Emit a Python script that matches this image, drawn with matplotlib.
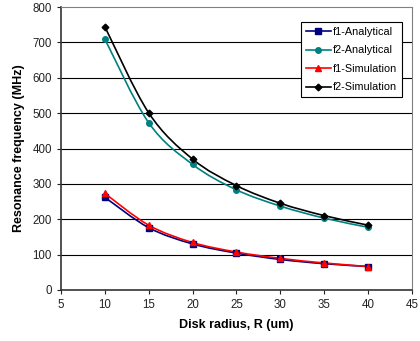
import numpy as np
import matplotlib
matplotlib.use("Agg")
import matplotlib.pyplot as plt
from matplotlib.path import Path
from matplotlib.patches import PathPatch
from matplotlib.lines import Line2D

plt.rcParams['font.family'] = ['Liberation Sans', 'DejaVu Sans']

radius = [10, 15, 20, 25, 30, 35, 40]
f1_analytical = [262, 176, 130, 104, 86, 74, 66]
f2_analytical = [710, 473, 355, 283, 237, 203, 177]
f1_simulation = [273, 183, 134, 107, 89, 76, 66]
f2_simulation = [745, 501, 370, 295, 245, 210, 183]

series = [
    ("f1-Analytical", f1_analytical, "#000080", "s", 3.8),
    ("f2-Analytical", f2_analytical, "#008080", "o", 4.0),
    ("f1-Simulation", f1_simulation, "#FF0000", "^", 4.4),
    ("f2-Simulation", f2_simulation, "#000000", "D", 3.4),
]


def smooth_path(x, y, t=1/6):
    # Excel-style smoothed line as cubic bezier segments
    x = np.asarray(x, float)
    y = np.asarray(y, float)
    n = len(x)
    verts = [(x[0], y[0])]
    codes = [Path.MOVETO]
    for i in range(n - 1):
        p0 = (x[i - 1], y[i - 1]) if i > 0 else (x[i], y[i])
        p1 = (x[i], y[i])
        p2 = (x[i + 1], y[i + 1])
        p3 = (x[i + 2], y[i + 2]) if i + 2 < n else p2
        c1 = (p1[0] + (p2[0] - p0[0]) * t, p1[1] + (p2[1] - p0[1]) * t)
        c2 = (p2[0] - (p3[0] - p1[0]) * t, p2[1] - (p3[1] - p1[1]) * t)
        verts += [c1, c2, p2]
        codes += [Path.CURVE4] * 3
    return Path(verts, codes)


fig = plt.figure(figsize=(4.2, 3.41), dpi=100)
ax = fig.add_axes([0.145, 0.15, 0.836, 0.829])

for val in range(100, 800, 100):
    ax.axhline(val, color="black", lw=0.8, zorder=1)

handles = []
for label, vals, color, marker, ms in series:
    patch = PathPatch(smooth_path(radius, vals), facecolor="none",
                      edgecolor=color, lw=1.2, zorder=3)
    ax.add_patch(patch)
    ax.plot(radius, vals, linestyle="none", marker=marker, color=color,
            markersize=ms, zorder=4)
    handles.append(Line2D([], [], color=color, lw=1.2, marker=marker,
                          markersize=ms, label=label))

ax.set_xlim(5, 45)
ax.set_ylim(0, 800)
ax.set_xticks(range(5, 50, 5))
ax.set_yticks(range(0, 900, 100))
ax.tick_params(labelsize=8.3, colors="#222222", length=3, width=0.8)

for side in ["left", "bottom"]:
    ax.spines[side].set_color("#333333")
    ax.spines[side].set_linewidth(1.2)
for side in ["top", "right"]:
    ax.spines[side].set_color("#808080")
    ax.spines[side].set_linewidth(0.8)

ax.set_xlabel("Disk radius, R (um)", fontsize=9, fontweight="bold", labelpad=6)
ax.set_ylabel("Resonance frequency (MHz)", fontsize=9, fontweight="bold", labelpad=5)

leg = ax.legend(handles=handles, loc="upper left", bbox_to_anchor=(0.683, 0.947),
                fontsize=7.8, frameon=True, fancybox=False, edgecolor="black",
                framealpha=1, handlelength=2.3, handletextpad=0.25,
                borderpad=0.45, labelspacing=0.78, borderaxespad=0)
leg.get_frame().set_linewidth(0.8)

fig.savefig("out.png", dpi=100)
